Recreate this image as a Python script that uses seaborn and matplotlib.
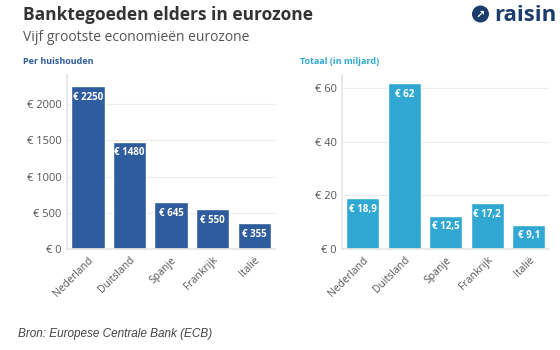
import matplotlib
matplotlib.use("Agg")
import matplotlib.pyplot as plt
import seaborn as sns
from matplotlib.patches import Ellipse

# Datos
landen = ["Nederland", "Duitsland", "Spanje", "Frankrijk", "Italië"]
per_huishouden = [2250, 1480, 645, 550, 355]
totaal_miljard = [18.9, 62, 12.5, 17.2, 9.1]
labels_huishouden = ["€ 2250", "€ 1480", "€ 645", "€ 550", "€ 355"]
labels_totaal = ["€ 18,9", "€ 62", "€ 12,5", "€ 17,2", "€ 9,1"]
ticks_huishouden = [0, 500, 1000, 1500, 2000]
ticks_totaal = [0, 20, 40, 60]

sns.set_theme(style="white")
plt.rcParams["font.family"] = ["Open Sans", "DejaVu Sans"]

fig = plt.figure(figsize=(5.6, 3.5), dpi=100)
ax1 = fig.add_axes([0.120, 0.2886, 0.371, 0.497])
ax2 = fig.add_axes([0.611, 0.2886, 0.370, 0.497])

kleur_links = "#2e5c9c"
kleur_rechts = "#30a8d3"


def opmaak(ax, waarden, kleur, labels, ticks, ymax):
    sns.barplot(x=landen, y=waarden, color=kleur, saturation=1, width=0.8, ax=ax)
    ax.set_xlim(-0.5, 4.5)
    ax.set_ylim(0, ymax)
    ax.set_yticks(ticks)
    ax.set_yticklabels([f"€ {t}" for t in ticks], color="#555555", fontsize=8)
    ax.set_xticks(range(len(landen)))
    ax.set_xticklabels(landen, rotation=45, ha="right", rotation_mode="anchor",
                       color="#555555", fontsize=7.5)
    ax.tick_params(axis="both", length=0, pad=4)
    ax.grid(axis="y", color="#ececec", linewidth=0.8)
    ax.set_axisbelow(True)
    for kant in ["top", "right"]:
        ax.spines[kant].set_visible(False)
    ax.spines["left"].set_color("#e6e6e6")
    ax.spines["bottom"].set_color("#e6e6e6")
    ax.set_xlabel("")
    ax.set_ylabel("")
    ax.bar_label(ax.containers[0], labels=labels, padding=-12, color="white",
                 fontweight="bold", fontsize=7)


opmaak(ax1, per_huishouden, kleur_links, labels_huishouden, ticks_huishouden, 2400)
opmaak(ax2, totaal_miljard, kleur_rechts, labels_totaal, ticks_totaal, 65)

# Titels
fig.text(0.041, 0.957, "Banktegoeden elders in eurozone", fontsize=12.5,
         fontweight="bold", color="#333333", va="center")
fig.text(0.041, 0.893, "Vijf grootste economieën eurozone", fontsize=10,
         color="#555555", va="center")
fig.text(0.041, 0.823, "Per huishouden", fontsize=6.5, fontweight="bold",
         color="#2e5c9c", va="center")
fig.text(0.536, 0.823, "Totaal (in miljard)", fontsize=6.5, fontweight="bold",
         color="#30a8d3", va="center")

# Logo
logo_kleur = "#1d3c6e"
fig.text(0.993, 0.955, "raisin", fontsize=16, fontweight="bold", color=logo_kleur,
         va="center", ha="right")
fig.patches.append(Ellipse((0.858, 0.96), 17 / 560, 17 / 350, transform=fig.transFigure,
                           facecolor=logo_kleur, edgecolor="none"))
fig.text(0.858, 0.958, "↗", fontsize=8, fontweight="bold", color="white",
         ha="center", va="center", family="DejaVu Sans")

# Bron
fig.text(0.032, 0.047, "Bron: Europese Centrale Bank (ECB)", fontsize=8.5,
         style="italic", color="#444444", family="Liberation Sans", va="center")

fig.savefig("out.png", dpi=100)
